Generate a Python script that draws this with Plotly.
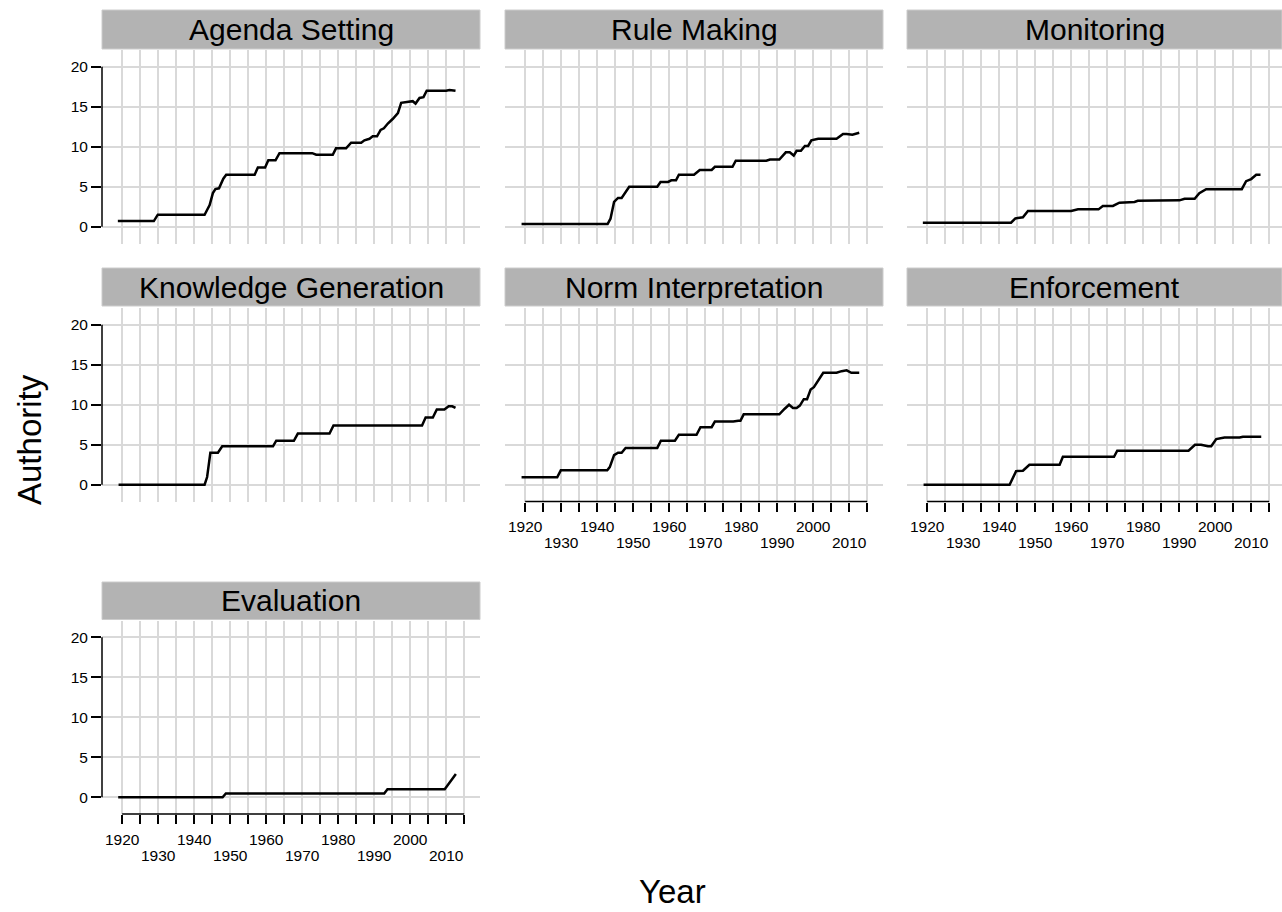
import plotly.graph_objects as go

W, H = 1282, 912

# ---- data ----
panel_titles = ["Agenda Setting", "Rule Making", "Monitoring",
                "Knowledge Generation", "Norm Interpretation", "Enforcement",
                "Evaluation"]

agenda_x = [1918.8, 1928.8, 1929.9, 1942.9, 1944.3, 1945.2, 1945.9, 1946.9, 1948.1, 1948.9,
            1956.8, 1957.7, 1959.7, 1960.6, 1962.6, 1963.7, 1972.8, 1973.9, 1978.5, 1979.4,
            1982.2, 1983.6, 1986.4, 1987.3, 1988.7, 1989.6, 1990.8, 1991.8, 1992.7, 1993.8,
            1995.2, 1996.6, 1997.5, 1999.8, 2000.7, 2001.5, 2002.6, 2003.7, 2004.6, 2010.0,
            2010.9, 2012.6]
agenda_y = [0.7, 0.7, 1.5, 1.5, 2.7, 4.2, 4.7, 4.8, 6.0, 6.5,
            6.5, 7.4, 7.4, 8.3, 8.3, 9.2, 9.2, 9.0, 9.0, 9.8,
            9.8, 10.5, 10.5, 10.8, 11.0, 11.3, 11.3, 12.1, 12.3, 12.9,
            13.5, 14.2, 15.5, 15.6, 15.7, 15.4, 16.1, 16.2, 17.0, 17.0,
            17.1, 17.0]

rule_x = [1919.0, 1942.9, 1943.7, 1944.7, 1945.8, 1946.8, 1948.9, 1956.7, 1957.6, 1959.7,
          1960.6, 1961.9, 1962.7, 1966.9, 1968.5, 1971.8, 1972.7, 1977.6, 1978.5, 1987.0,
          1988.0, 1990.6, 1992.4, 1993.5, 1994.6, 1995.4, 1996.6, 1997.7, 1998.6, 1999.5,
          2001.4, 2006.5, 2008.3, 2009.3, 2010.9, 2012.8]
rule_y = [0.33, 0.33, 1.0, 3.1, 3.6, 3.6, 5.0, 5.0, 5.6, 5.6,
          5.8, 5.8, 6.5, 6.5, 7.1, 7.1, 7.5, 7.5, 8.25, 8.25,
          8.4, 8.4, 9.3, 9.3, 8.9, 9.5, 9.5, 10.1, 10.1, 10.8,
          11.0, 11.0, 11.6, 11.6, 11.5, 11.75]

monitor_x = [1918.8, 1943.3, 1944.5, 1946.6, 1948.0, 1960.0, 1961.9, 1967.6, 1968.8, 1971.6,
             1973.4, 1977.6, 1978.5, 1987.8, 1990.1, 1991.5, 1994.3, 1995.6, 1997.5, 2007.4,
             2008.6, 2010.0, 2011.4, 2012.6]
monitor_y = [0.5, 0.5, 1.04, 1.17, 1.96, 1.96, 2.17, 2.17, 2.6, 2.6,
             3.0, 3.1, 3.25, 3.25, 3.3, 3.5, 3.5, 4.2, 4.7, 4.7,
             5.7, 5.96, 6.5, 6.5]

knowledge_x = [1919.0, 1942.9, 1943.6, 1944.5, 1946.6, 1947.8, 1961.9, 1962.8, 1967.7, 1968.8,
               1977.6, 1978.7, 2003.3, 2004.3, 2006.3, 2007.4, 2009.5, 2010.7, 2011.7, 2012.6]
knowledge_y = [0.0, 0.0, 0.96, 4.0, 4.0, 4.8, 4.8, 5.5, 5.5, 6.4,
               6.4, 7.4, 7.4, 8.4, 8.4, 9.4, 9.4, 9.8, 9.8, 9.6]

norm_x = [1919.0, 1928.9, 1929.9, 1942.8, 1943.5, 1944.7, 1945.8, 1946.8, 1947.9, 1956.7,
          1957.7, 1961.6, 1962.7, 1967.6, 1968.7, 1971.8, 1972.7, 1977.8, 1979.2, 1979.8,
          1980.7, 1990.6, 1992.1, 1993.3, 1994.4, 1995.4, 1996.3, 1997.4, 1998.3, 1999.3,
          2000.2, 2001.4, 2002.8, 2006.5, 2007.9, 2009.3, 2010.6, 2012.8]
norm_y = [0.92, 0.92, 1.8, 1.8, 2.2, 3.7, 4.0, 4.0, 4.6, 4.6,
          5.5, 5.5, 6.25, 6.25, 7.2, 7.2, 7.9, 7.9, 8.0, 8.0,
          8.8, 8.8, 9.5, 10.0, 9.6, 9.6, 9.9, 10.7, 10.7, 11.9,
          12.2, 13.0, 14.0, 14.0, 14.2, 14.3, 14.0, 14.0]

enforce_x = [1919.0, 1942.9, 1944.7, 1946.6, 1948.4, 1956.8, 1957.7, 1971.9, 1972.8, 1992.6,
             1994.4, 1996.1, 1998.0, 1998.9, 2000.3, 2002.6, 2006.8, 2007.7, 2012.8]
enforce_y = [0.0, 0.0, 1.7, 1.75, 2.5, 2.5, 3.5, 3.5, 4.25, 4.25,
             5.0, 5.0, 4.8, 4.8, 5.7, 5.9, 5.9, 6.0, 6.0]

eval_x = [1918.9, 1947.9, 1948.8, 1992.8, 1993.7, 2009.6, 2012.7]
eval_y = [0.0, 0.0, 0.46, 0.46, 1.0, 1.0, 2.9]

series_x = [agenda_x, rule_x, monitor_x, knowledge_x, norm_x, enforce_x, eval_x]
series_y = [agenda_y, rule_y, monitor_y, knowledge_y, norm_y, enforce_y, eval_y]

x_ticks = list(range(1920, 2016, 5))          # grid / tick marks every 5 years
x_labels_upper = [1920, 1940, 1960, 1980, 2000]
x_labels_lower = [1930, 1950, 1970, 1990, 2010]
y_ticks = [0, 5, 10, 15, 20]

# ---- layout geometry (reference pixels) ----
cols = [(102, 480), (505, 883), (907, 1282)]
rows = [(50, 243.5), (308, 501.5), (620.5, 814)]
strips = [(10, 49), (268, 306), (582, 619.5)]
positions = [(0, 0), (0, 1), (0, 2), (1, 0), (1, 1), (1, 2), (2, 0)]
show_y = [True, False, False, True, False, False, True]
show_x = [False, False, False, False, True, True, True]


def px(v):
    return v / W


def py(v):
    return 1 - v / H


FONT = "Liberation Sans, Arial, Helvetica, sans-serif"
GRID = "#d9d9d9"
TICKFONT = dict(family=FONT, size=15.5, color="black")

fig = go.Figure()
shapes = []
annotations = []
layout = {}
extra = 8

for i in range(7):
    r, c = positions[i]
    n = "" if i == 0 else str(i + 1)
    xa, ya = "x" + n, "y" + n
    x0p, x1p = cols[c]
    t, b = rows[r]
    xr_left = 1914.4
    xr_right = xr_left + (x1p - x0p) / 3.6
    fig.add_trace(go.Scatter(x=series_x[i], y=series_y[i], mode="lines",
                             line=dict(color="black", width=2.5),
                             xaxis=xa, yaxis=ya, showlegend=False,
                             hoverinfo="skip"))
    if show_x[i]:
        ticktext = [str(v) if v in x_labels_upper else "" for v in x_ticks]
    else:
        ticktext = ["" for v in x_ticks]
    layout["xaxis" + n] = dict(
        domain=[px(x0p), px(x1p)], anchor=ya, range=[xr_left, xr_right],
        tickmode="array", tickvals=x_ticks, ticktext=ticktext,
        showticklabels=show_x[i], ticks="outside" if show_x[i] else "",
        ticklen=9, tickwidth=1.5, tickcolor="black", ticklabelstandoff=2,
        showgrid=True, gridcolor=GRID, gridwidth=2, zeroline=False,
        showline=False, tickfont=TICKFONT, fixedrange=True)
    layout["yaxis" + n] = dict(
        domain=[py(b), py(t)], anchor=xa, range=[-2.1, 22.1],
        tickmode="array", tickvals=y_ticks,
        showticklabels=show_y[i], ticks="outside" if show_y[i] else "",
        ticklen=10, tickwidth=1.5, tickcolor="black",
        showgrid=True, gridcolor=GRID, gridwidth=2, zeroline=False,
        showline=False, tickfont=TICKFONT, fixedrange=True)
    if show_x[i]:
        # second row of year labels on an overlaid axis
        k = str(extra)
        extra += 1
        fig.add_trace(go.Scatter(x=[], y=[], mode="lines", xaxis="x" + k,
                                 yaxis=ya, showlegend=False, hoverinfo="skip"))
        layout["xaxis" + k] = dict(
            overlaying=xa, anchor=ya, domain=[px(x0p), px(x1p)],
            range=[xr_left, xr_right], side="bottom",
            tickmode="array", tickvals=x_labels_lower,
            ticktext=[str(v) for v in x_labels_lower],
            ticks="outside", ticklen=9, tickcolor="rgba(0,0,0,0)",
            ticklabelstandoff=18, showgrid=False, zeroline=False,
            showline=False, tickfont=TICKFONT, fixedrange=True)
        shapes.append(dict(type="line", xref=xa, yref=ya + " domain",
                           x0=1920, x1=2015, y0=0, y1=0,
                           line=dict(color="black", width=1.5)))
    if show_y[i]:
        shapes.append(dict(type="line", xref=xa + " domain", yref=ya,
                           x0=0, x1=0, y0=0, y1=20,
                           line=dict(color="black", width=1.5)))
    # strip
    st, sb = strips[r]
    shapes.append(dict(type="rect", xref="paper", yref="paper",
                       x0=px(x0p), x1=px(x1p), y0=py(sb), y1=py(st),
                       fillcolor="#b3b3b3", line=dict(color="#cccccc", width=1),
                       layer="below"))
    annotations.append(dict(text=panel_titles[i], xref="paper", yref="paper",
                            x=px((x0p + x1p) / 2), y=py((st + sb) / 2),
                            xanchor="center", yanchor="middle", showarrow=False,
                            font=dict(family=FONT, size=30, color="black")))

annotations.append(dict(text="Authority", xref="paper", yref="paper",
                        x=px(30), y=py(440), textangle=-90,
                        xanchor="center", yanchor="middle", showarrow=False,
                        font=dict(family=FONT, size=33, color="black")))
annotations.append(dict(text="Year", xref="paper", yref="paper",
                        x=px(672), y=py(891),
                        xanchor="center", yanchor="middle", showarrow=False,
                        font=dict(family=FONT, size=33, color="black")))

fig.update_layout(**layout)
fig.update_layout(width=W, height=H, margin=dict(l=0, r=0, t=0, b=0),
                  paper_bgcolor="white", plot_bgcolor="white",
                  shapes=shapes, annotations=annotations,
                  font=dict(family=FONT))

# remove the default 8px page margin so the figure fills the window exactly
fig.write_html("out.html",
               config={"displayModeBar": False},
               post_script="document.body.style.margin='0px';"
                           "document.body.style.overflow='hidden';")
